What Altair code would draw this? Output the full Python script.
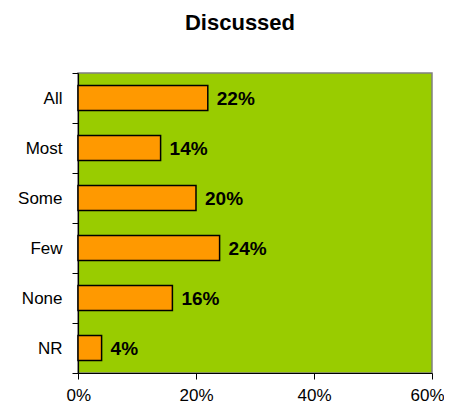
import altair as alt
import pandas as pd

categories = ["All", "Most", "Some", "Few", "None", "NR"]
values = [0.22, 0.14, 0.20, 0.24, 0.16, 0.04]
x_ticks = [0, 0.2, 0.4, 0.6]

df = pd.DataFrame({"cat": categories, "val": values})

y_enc = alt.Y(
    "cat:N",
    sort=categories,
    scale=alt.Scale(paddingInner=0, paddingOuter=0),
    axis=alt.Axis(
        title=None,
        tickBand="extent",
        labelFontSize=17,
        labelFont="Liberation Sans",
        labelColor="black",
        labelPadding=10,
        tickSize=6,
        tickColor="black",
        domainColor="black",
        domainWidth=1.2,
    ),
)
x_enc = alt.X(
    "val:Q",
    scale=alt.Scale(domain=[0, 0.6], nice=False),
    axis=alt.Axis(
        title=None,
        values=x_ticks,
        format=".0%",
        grid=False,
        labelFontSize=17,
        labelFont="Liberation Sans",
        labelColor="black",
        labelPadding=8,
        tickSize=6,
        tickColor="black",
        domainColor="black",
        domainWidth=1.2,
        labelFlush=True,
        labelFlushOffset=12,
    ),
)

bars = alt.Chart(df).mark_bar(
    color="#FF9900", stroke="black", strokeWidth=1.5, size=25
).encode(x=x_enc, y=y_enc)

labels = alt.Chart(df).mark_text(
    align="left", baseline="middle", dx=9, dy=1,
    font="Liberation Sans", fontSize=19, fontWeight="bold", color="black"
).encode(x="val:Q", y=alt.Y("cat:N", sort=categories), text=alt.Text("val:Q", format=".0%"))

chart = alt.layer(bars, labels).properties(
    width=354,
    height=300,
    background="white",
    autosize=alt.AutoSizeParams(type="none"),
    padding={"left": 70, "top": 65, "right": 12, "bottom": 30},
    title=alt.Title(
        "Discussed",
        font="Liberation Sans",
        fontSize=22,
        fontWeight="bold",
        color="black",
        anchor="middle",
        dx=-15,
        baseline="alphabetic",
        offset=12,
    ),
).configure_view(
    fill="#99CC00", stroke="#808080", strokeWidth=1.5
)

chart.save("out.html", embed_options={"renderer": "svg", "actions": False})
